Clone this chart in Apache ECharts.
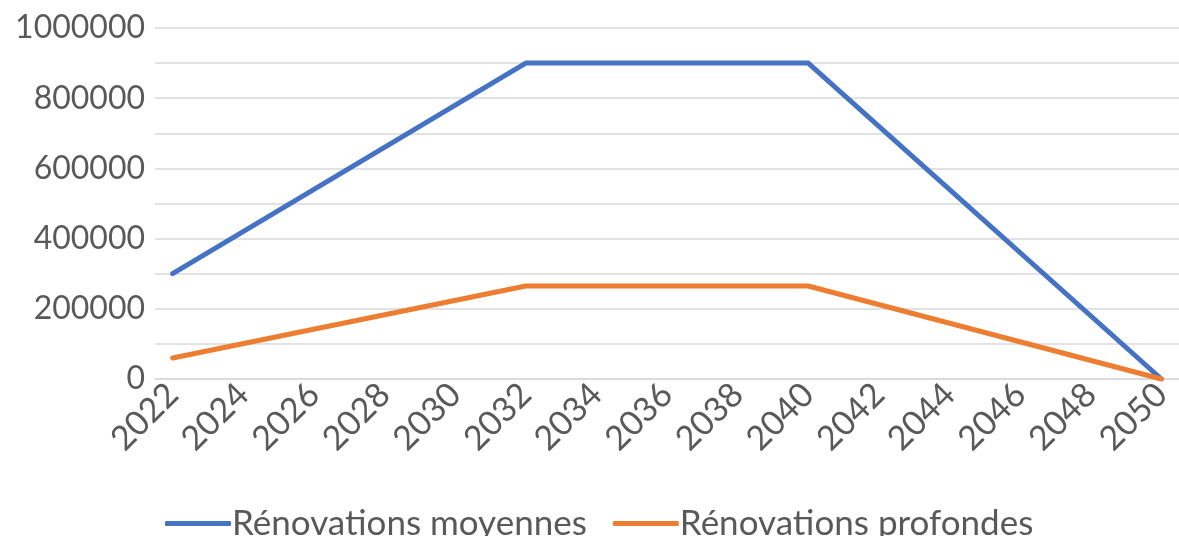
<!DOCTYPE html>
<html>
<head>
<meta charset="utf-8">
<script src="https://cdn.jsdelivr.net/npm/echarts@6/dist/echarts.min.js"></script>
<style>
  html, body { margin: 0; padding: 0; background: #fff; }
  #chart { width: 1179px; height: 536px; }
</style>
</head>
<body>
<div id="chart"></div>
<script>
// Years on the horizontal axis (one category per year)
const years = [];
for (let y = 2022; y <= 2050; y++) years.push(String(y));

// Known values at the breakpoints; years in between are joined by straight segments
const moyennesPoints = { '2022': 300000, '2032': 900000, '2040': 900000, '2050': 0 };
const profondesPoints = { '2022': 60000, '2032': 265000, '2040': 265000, '2050': 0 };

const seriesNames = ['Rénovations moyennes', 'Rénovations profondes'];
const colors = ['#4472C4', '#ED7D31'];

const toSeriesData = pts => years.map(y => (y in pts ? pts[y] : null));

const textColor = '#595959';
const fontFamily = 'Lato, "Open Sans", sans-serif';

const chart = echarts.init(document.getElementById('chart'));
chart.setOption({
  animation: false,
  color: colors,
  grid: { left: 155, top: 28, width: 1030, height: 351, containLabel: false },
  legend: {
    bottom: -10,
    left: 160,
    itemWidth: 66,
    itemHeight: 5,
    itemGap: 26,
    icon: 'roundRect',
    textStyle: { color: textColor, fontSize: 35, fontFamily: fontFamily, padding: [0, 0, 0, -4] },
    data: seriesNames
  },
  xAxis: {
    type: 'category',
    data: years,
    boundaryGap: true,
    axisLine: { show: true, lineStyle: { color: '#d9d9d9', width: 1.5 } },
    axisTick: { show: false },
    axisLabel: {
      interval: 1,
      rotate: 45,
      color: textColor,
      fontSize: 34,
      fontFamily: fontFamily,
      margin: 10
    }
  },
  yAxis: {
    type: 'value',
    min: 0,
    max: 1000000,
    interval: 200000,
    axisLine: { show: false },
    axisTick: { show: false },
    axisLabel: {
      color: textColor,
      fontSize: 32,
      fontFamily: fontFamily,
      margin: 10,
      formatter: v => String(v)
    },
    splitLine: { lineStyle: { color: '#d9d9d9', width: 1.5 } },
    minorTick: { show: false, splitNumber: 2 },
    minorSplitLine: { show: true, lineStyle: { color: '#d9d9d9', width: 1.5 } }
  },
  series: [
    {
      name: seriesNames[0],
      type: 'line',
      data: toSeriesData(moyennesPoints),
      connectNulls: true,
      showSymbol: false,
      lineStyle: { width: 5, color: colors[0], cap: 'round', join: 'round' }
    },
    {
      name: seriesNames[1],
      type: 'line',
      data: toSeriesData(profondesPoints),
      connectNulls: true,
      showSymbol: false,
      lineStyle: { width: 5, color: colors[1], cap: 'round', join: 'round' }
    }
  ]
});
</script>
</body>
</html>
